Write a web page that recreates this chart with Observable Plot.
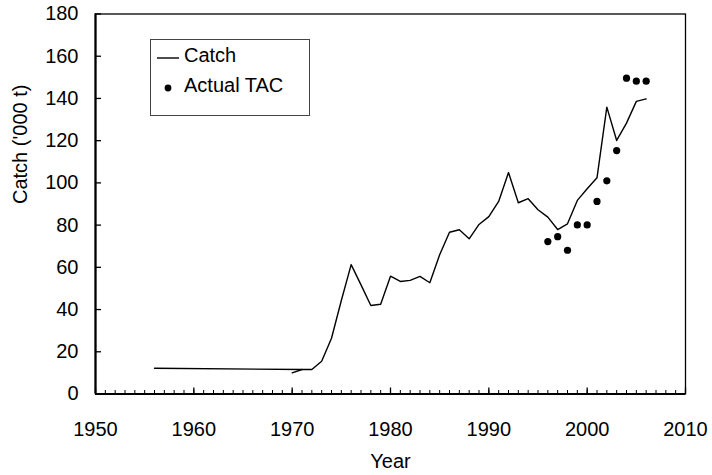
<!DOCTYPE html>
<html>
<head>
<meta charset="utf-8">
<script src="https://cdn.jsdelivr.net/npm/d3@7"></script>
<script src="https://cdn.jsdelivr.net/npm/@observablehq/plot@0.6"></script>
<style>
  body { margin: 0; background: #fff; font-family: "Liberation Sans", Arial, sans-serif; }
  #chart { position: relative; width: 712px; height: 475px; }
  #legend {
    position: absolute; left: 150px; top: 39px; width: 158px; height: 75px;
    border: 1.5px solid #444; background: #fff; font-size: 20px; color: #000;
  }
  #legend .row { position: absolute; left: 4px; display: flex; align-items: center; }
  #legend svg { margin-right: 5px; }
</style>
</head>
<body>
<div id="chart"></div>
<script>
// early catch record (single value carried to 1971)
const earlyYears = [1956, 1971];
const earlyCatch = [12.2, 11.6];

// annual catch ('000 t)
const catchYears = d3.range(1970, 2007);
const catchValues = [
  10.0, 11.6, 11.6, 15.5, 26.4, 44.3, 61.3, 51.7, 41.9, 42.5,
  55.8, 53.3, 53.8, 55.7, 52.7, 66.0, 76.6, 77.8, 73.5, 80.3,
  84.0, 91.2, 104.9, 90.6, 92.5, 87.3, 83.8, 77.9, 80.6, 91.7,
  97.2, 102.4, 135.9, 120.1, 128.3, 138.6, 139.8
];

// actual TAC
const tacYears = d3.range(1996, 2007);
const tacValues = [72.2, 74.5, 68.1, 80.1, 80.1, 91.2, 101.0, 115.3, 149.6, 148.2, 148.2];

const xLabels = d3.range(1950, 2011, 10);
const xMinor = d3.range(1950, 2011, 1);
const yLabels = d3.range(0, 181, 20);

const W = 712, H = 475;
const mLeft = 95, mRight = 27, mTop = 13.5, mBottom = 81.5;
const plotW = W - mLeft - mRight, plotH = H - mTop - mBottom;

const early = earlyYears.map((year, i) => ({year, value: earlyCatch[i]}));
const catches = catchYears.map((year, i) => ({year, value: catchValues[i]}));
const tac = tacYears.map((year, i) => ({year, value: tacValues[i]}));

const chart = Plot.plot({
  width: W,
  height: H,
  marginLeft: mLeft,
  marginRight: mRight,
  marginTop: mTop,
  marginBottom: mBottom,
  style: {fontFamily: "'Liberation Sans', Arial, sans-serif", fontSize: "20px", color: "#000", background: "#fff"},
  x: {domain: [1950, 2010]},
  y: {domain: [0, 180]},
  marks: [
    Plot.frame({stroke: "#000", strokeWidth: 1.3}),
    // inward ticks
    Plot.ruleX(xMinor, {stroke: "#000", strokeWidth: 1, insetTop: plotH - 3.5}),
    Plot.ruleX(xLabels, {stroke: "#000", strokeWidth: 1.3, insetTop: plotH - 6}),
    Plot.ruleY(yLabels, {stroke: "#000", strokeWidth: 1.3, insetRight: plotW - 6}),
    Plot.ruleX([1950], {stroke: "#000", strokeWidth: 2.2}),
    Plot.ruleY([0], {stroke: "#000", strokeWidth: 2.2}),
    Plot.axisX({ticks: xLabels, tickSize: 0, tickPadding: 28, tickFormat: d => String(d), label: null, fill: "#000"}),
    Plot.axisY({ticks: yLabels, tickSize: 0, tickPadding: 17, label: null, fill: "#000"}),
    Plot.line(early, {x: "year", y: "value", stroke: "#000", strokeWidth: 1.4}),
    Plot.line(catches, {x: "year", y: "value", stroke: "#000", strokeWidth: 1.4}),
    Plot.dot(tac, {x: "year", y: "value", r: 3.6, fill: "#000"}),
    Plot.text(["Year"], {frameAnchor: "bottom", dy: 68, lineAnchor: "middle", fill: "#000"}),
    Plot.text(["Catch ('000 t)"], {frameAnchor: "left", dx: -75, rotate: -90, lineAnchor: "middle", fill: "#000"})
  ]
});

const holder = document.querySelector("#chart");
holder.append(chart);

// legend box, Excel style
const legend = document.createElement("div");
legend.id = "legend";
legend.innerHTML = `
  <div class="row" style="top:4px">
    <svg width="24" height="20"><line x1="2" x2="24" y1="12" y2="12" stroke="#000" stroke-width="1.4"/></svg>Catch
  </div>
  <div class="row" style="top:34px">
    <svg width="24" height="20"><circle cx="13" cy="12" r="3.4" fill="#000"/></svg>Actual TAC
  </div>`;
holder.append(legend);
</script>
</body>
</html>
